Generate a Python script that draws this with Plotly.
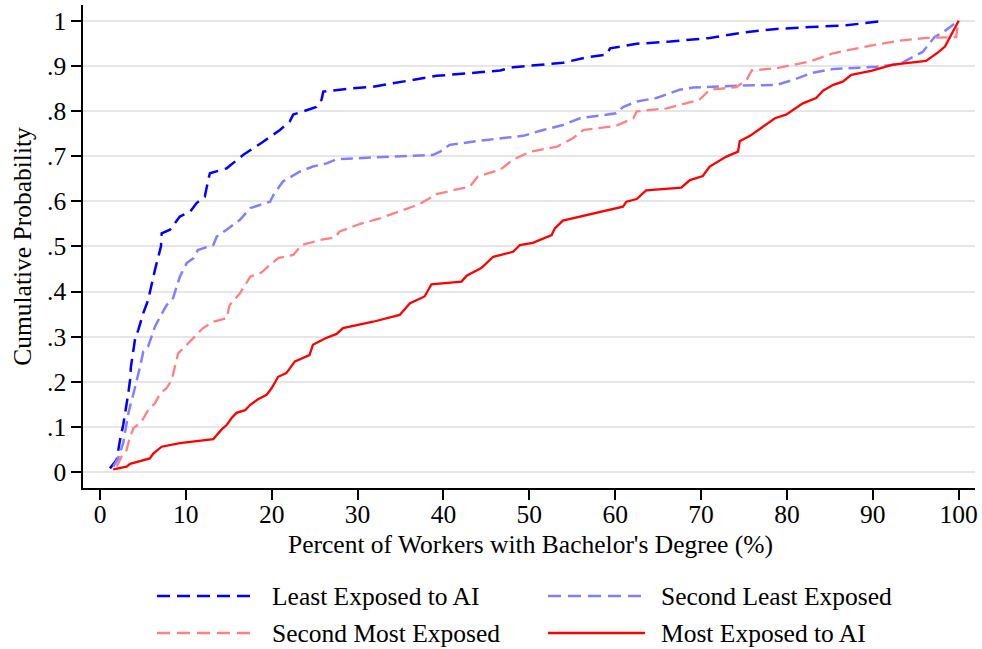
import plotly.graph_objects as go

# ---- data ----
least_x = [1.16, 1.94, 2.33, 2.7, 3.3, 3.5, 3.6, 3.8, 4.07, 4.46, 5.04, 5.6, 6.0, 6.4, 6.9, 7.1, 7.18, 8.15, 9.3, 10.5, 11.25, 12.2, 12.6, 12.8, 14.75, 16.7, 19.0, 20.95, 22.1, 22.5, 25.2, 25.8, 26.0, 28.7, 31.8, 35.3, 39.2, 43.1, 46.6, 48.1, 50.8, 53.9, 56.7, 59.0, 59.4, 62.5, 66.4, 69.1, 71.0, 74.9, 78.8, 82.7, 86.9, 91.4]
least_y = [0.008, 0.027, 0.071, 0.104, 0.175, 0.204, 0.233, 0.256, 0.293, 0.315, 0.352, 0.381, 0.418, 0.448, 0.485, 0.50, 0.529, 0.537, 0.566, 0.577, 0.596, 0.610, 0.647, 0.662, 0.673, 0.703, 0.732, 0.758, 0.777, 0.792, 0.809, 0.825, 0.843, 0.849, 0.854, 0.865, 0.878, 0.884, 0.890, 0.897, 0.902, 0.907, 0.919, 0.925, 0.939, 0.949, 0.954, 0.958, 0.962, 0.974, 0.982, 0.986, 0.990, 1.0]

second_least_x = [1.55, 2.1, 2.7, 3.3, 3.9, 4.3, 4.66, 5.04, 5.6, 6.0, 6.4, 7.0, 7.76, 8.5, 8.9, 9.3, 9.7, 10.1, 10.9, 11.4, 13.2, 13.6, 14.75, 16.3, 17.5, 19.8, 20.2, 21.3, 23.3, 24.8, 26.4, 27.55, 31.8, 38.8, 39.6, 40.7, 45.0, 49.3, 51.6, 53.9, 55.9, 60.1, 60.9, 62.5, 64.8, 66.4, 67.5, 69.1, 74.1, 78.8, 80.7, 83.0, 85.4, 90.4, 93.1, 95.8, 96.6, 97.2, 98.2, 100.0]
second_least_y = [0.012, 0.030, 0.064, 0.130, 0.174, 0.204, 0.233, 0.267, 0.278, 0.300, 0.322, 0.344, 0.370, 0.385, 0.407, 0.433, 0.448, 0.463, 0.474, 0.492, 0.503, 0.522, 0.537, 0.559, 0.585, 0.599, 0.614, 0.644, 0.666, 0.677, 0.684, 0.693, 0.697, 0.703, 0.710, 0.725, 0.736, 0.745, 0.758, 0.769, 0.784, 0.795, 0.809, 0.821, 0.829, 0.840, 0.847, 0.852, 0.856, 0.858, 0.869, 0.885, 0.893, 0.898, 0.904, 0.931, 0.950, 0.964, 0.975, 1.0]

second_most_x = [1.94, 2.5, 3.1, 3.5, 3.9, 4.85, 5.6, 6.4, 7.0, 7.76, 8.35, 8.7, 9.1, 10.1, 11.06, 12.0, 13.2, 14.75, 15.1, 16.3, 17.5, 18.8, 19.8, 20.75, 22.5, 23.5, 25.6, 27.4, 27.9, 30.3, 32.6, 37.25, 39.2, 43.1, 44.0, 46.6, 48.1, 50.1, 53.2, 55.1, 56.3, 60.1, 62.1, 62.5, 66.0, 69.8, 71.0, 74.1, 75.3, 75.9, 78.8, 82.7, 85.4, 89.2, 93.1, 96.2, 99.7, 100.0]
second_most_y = [0.012, 0.034, 0.049, 0.078, 0.097, 0.112, 0.137, 0.152, 0.174, 0.186, 0.204, 0.233, 0.263, 0.282, 0.300, 0.319, 0.333, 0.341, 0.370, 0.396, 0.433, 0.442, 0.459, 0.474, 0.481, 0.503, 0.514, 0.520, 0.533, 0.550, 0.562, 0.594, 0.616, 0.633, 0.655, 0.670, 0.692, 0.710, 0.721, 0.740, 0.758, 0.767, 0.784, 0.799, 0.806, 0.825, 0.847, 0.853, 0.869, 0.890, 0.895, 0.910, 0.928, 0.943, 0.956, 0.962, 0.964, 1.0]

most_x = [1.55, 3.1, 3.5, 5.24, 5.8, 6.2, 7.18, 9.3, 13.2, 13.6, 14.2, 14.75, 15.3, 15.9, 16.9, 17.5, 18.4, 19.4, 20.0, 20.75, 21.7, 22.7, 24.4, 24.8, 26.2, 27.55, 28.3, 31.8, 33.0, 34.9, 36.1, 37.8, 38.6, 42.1, 42.7, 44.4, 45.8, 48.1, 48.9, 50.4, 52.6, 52.97, 53.9, 56.3, 58.6, 60.9, 61.3, 62.5, 63.6, 67.7, 68.7, 70.2, 71.0, 72.95, 74.3, 74.5, 75.7, 77.4, 78.6, 79.9, 81.85, 83.4, 84.2, 85.4, 86.5, 87.5, 89.8, 92.35, 96.2, 97.6, 98.4, 100.0]
most_y = [0.006, 0.012, 0.018, 0.027, 0.030, 0.041, 0.056, 0.064, 0.073, 0.082, 0.095, 0.104, 0.119, 0.131, 0.137, 0.149, 0.161, 0.171, 0.186, 0.211, 0.219, 0.245, 0.259, 0.282, 0.296, 0.306, 0.319, 0.333, 0.339, 0.348, 0.374, 0.389, 0.416, 0.422, 0.435, 0.452, 0.477, 0.488, 0.503, 0.508, 0.525, 0.540, 0.557, 0.568, 0.579, 0.588, 0.599, 0.605, 0.624, 0.630, 0.647, 0.656, 0.677, 0.699, 0.710, 0.733, 0.745, 0.769, 0.784, 0.792, 0.817, 0.829, 0.845, 0.858, 0.865, 0.880, 0.889, 0.903, 0.911, 0.930, 0.943, 1.0]

series_names = ["Least Exposed to AI", "Second Least Exposed", "Second Most Exposed", "Most Exposed to AI"]
x_ticks = list(range(0, 101, 10))
y_tick_vals = [i / 10 for i in range(11)]
y_tick_text = ["0", ".1", ".2", ".3", ".4", ".5", ".6", ".7", ".8", ".9", "1"]
x_title = "Percent of Workers with Bachelor's Degree (%)"
y_title = "Cumulative Probability"

# ---- styles ----
styles = [
    dict(color="#0000FF", dash="13px,7px", width=2.5),
    dict(color="#8080FF", dash="12px,6px", width=2.5),
    dict(color="#FF8080", dash="12px,6px", width=2.3),
    dict(color="#FF0000", dash="solid", width=2.3),
]
legend_dash = ["13px,7px", "13px,7px", "13px,7px", "solid"]

FONT = "Liberation Serif, Times New Roman, serif"
FS = 25.5
W, H = 982, 649
ML, MR, MT, MB = 83, 7, 5, 161

fig = go.Figure()
data = [(least_x, least_y), (second_least_x, second_least_y),
        (second_most_x, second_most_y), (most_x, most_y)]
for (xs, ys), name, st in zip(data, series_names, styles):
    fig.add_trace(go.Scatter(x=xs, y=ys, mode="lines", name=name,
                             line=dict(color=st["color"], dash=st["dash"], width=st["width"]),
                             showlegend=False))

# ---- manual legend and x title (layout decoration, positioned in paper space) ----
pw = W - ML - MR
ph = H - MT - MB
def px2paper_x(px):
    return (px - ML) / pw
def px2paper_y(py):
    return (H - MB - py) / ph

legend_slots = [(157, 254, 270, 596), (548, 645, 659, 596),
                (157, 254, 270, 633), (548, 645, 659, 633)]
for i, (x0, x1, tx, ty) in enumerate(legend_slots):
    st = styles[i]
    fig.add_shape(type="line", xref="paper", yref="paper",
                  x0=px2paper_x(x0), x1=px2paper_x(x1),
                  y0=px2paper_y(ty), y1=px2paper_y(ty),
                  line=dict(color=st["color"], dash=legend_dash[i], width=2.5))
    fig.add_annotation(text=series_names[i], xref="paper", yref="paper",
                       x=px2paper_x(tx), y=px2paper_y(ty), xanchor="left", yanchor="middle",
                       showarrow=False, font=dict(family=FONT, size=FS, color="black"))

fig.add_annotation(text=x_title, xref="paper", yref="paper",
                   x=px2paper_x(530), y=px2paper_y(544), xanchor="center", yanchor="middle",
                   showarrow=False, borderpad=0,
                   font=dict(family=FONT, size=FS, color="black"))

fig.update_layout(
    width=W, height=H,
    margin=dict(l=ML, r=MR, t=MT, b=MB),
    paper_bgcolor="white", plot_bgcolor="white",
    font=dict(family=FONT, size=FS, color="black"),
    showlegend=False,
)
fig.update_xaxes(range=[-1.98, 101.9], tickvals=x_ticks, ticks="outside", ticklen=10,
                 tickwidth=1.5, tickcolor="black", showline=True, linecolor="black", linewidth=1.5,
                 showgrid=False, zeroline=False, ticklabelstandoff=-7,
                 tickfont=dict(family=FONT, size=FS))
fig.update_yaxes(range=[-0.0355, 1.035], tickvals=y_tick_vals, ticktext=y_tick_text,
                 ticks="outside", ticklen=10, tickwidth=1.5, tickcolor="black",
                 showline=True, linecolor="black", linewidth=1.5,
                 showgrid=True, gridcolor="#E6E6E6", gridwidth=1.5, zeroline=False,
                 tickangle=0, tickfont=dict(family=FONT, size=FS),
                 title=dict(text=y_title, standoff=8,
                            font=dict(family=FONT, size=FS)))

fig.write_html("out.html", config={"displayModeBar": False},
               post_script="document.body.style.margin='0';document.body.style.padding='0';")
